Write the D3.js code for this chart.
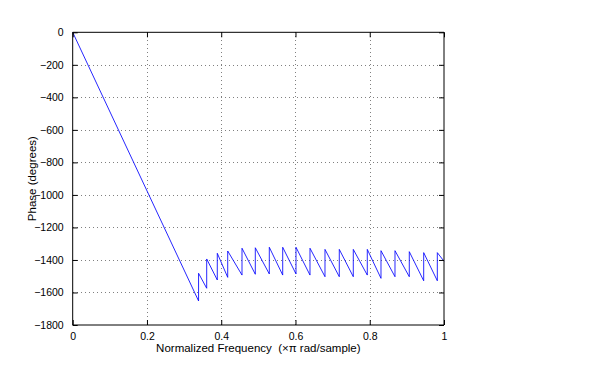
<!DOCTYPE html>
<html><head><meta charset="utf-8">
<script src="https://cdn.jsdelivr.net/npm/d3@7"></script>
<style>body{margin:0;background:#fff}svg{display:block}text{font-family:"Liberation Sans",Arial,sans-serif;fill:#000}</style>
</head><body>
<script>
// Vertices of the phase response (normalized frequency, degrees)
const freq = [0, 0.339, 0.339, 0.3609, 0.3609, 0.3894, 0.3894, 0.4175, 0.4175, 0.456, 0.456,
  0.4918, 0.4918, 0.5295, 0.5295, 0.5656, 0.5656, 0.6014, 0.6014, 0.6391, 0.6391,
  0.6795, 0.6795, 0.718, 0.718, 0.7557, 0.7557, 0.7934, 0.7934, 0.8303, 0.8303,
  0.868, 0.868, 0.9065, 0.9065, 0.9453, 0.9453, 0.982, 0.982, 1.0];
const phase = [0, -1652, -1482, -1574, -1394, -1523, -1359, -1507, -1345, -1493, -1328,
  -1488, -1325, -1486, -1322, -1493, -1322, -1486, -1322, -1493, -1328,
  -1503, -1335, -1503, -1335, -1503, -1335, -1493, -1335, -1513, -1343,
  -1503, -1343, -1503, -1349, -1528, -1355, -1528, -1355, -1408];
const xTicks = [0, 0.2, 0.4, 0.6, 0.8, 1];
const yTicks = [0, -200, -400, -600, -800, -1000, -1200, -1400, -1600, -1800];
const xLabel = "Normalized Frequency  (\u00d7\u03c0 rad/sample)";
const yLabel = "Phase (degrees)";

const W = 597, H = 365;
const L = 72.7, R = 444, T = 32.3, B = 325;
const svg = d3.select("body").append("svg").attr("width", W).attr("height", H);
const x = d3.scaleLinear().domain([0, 1]).range([L, R]);
const y = d3.scaleLinear().domain([-1800, 0]).range([B, T]);
const fmtY = d3.format("d");

// grid
const g = svg.append("g").attr("stroke", "#808080").attr("stroke-width", 1)
  .attr("stroke-dasharray", "1,3").attr("shape-rendering", "crispEdges");
xTicks.slice(1, -1).forEach(t => g.append("line").attr("x1", Math.round(x(t)) + 0.5).attr("x2", Math.round(x(t)) + 0.5).attr("y1", T).attr("y2", B));
yTicks.slice(1, -1).forEach(t => g.append("line").attr("y1", Math.round(y(t)) + 0.5).attr("y2", Math.round(y(t)) + 0.5).attr("x1", L).attr("x2", R));

// data line
const pts = freq.map((f, i) => [f, phase[i]]);
svg.append("path").datum(pts)
  .attr("d", d3.line().x(d => x(d[0])).y(d => y(d[1])))
  .attr("fill", "none").attr("stroke", "#0000ff").attr("stroke-width", 0.85);

// axes
const tk = 5;
const axB = svg.append("g").attr("transform", `translate(0,${B})`)
  .call(d3.axisBottom(x).tickValues(xTicks).tickSize(-tk).tickPadding(tk + 3).tickFormat(d3.format("")));
const axT = svg.append("g").attr("transform", `translate(0,${T})`)
  .call(d3.axisTop(x).tickValues(xTicks).tickSize(-tk).tickFormat(""));
const axL = svg.append("g").attr("transform", `translate(${L},0)`)
  .call(d3.axisLeft(y).tickValues(yTicks).tickSize(-tk).tickPadding(tk + 4).tickFormat(fmtY));
const axR = svg.append("g").attr("transform", `translate(${R},0)`)
  .call(d3.axisRight(y).tickValues(yTicks).tickSize(-tk).tickFormat(""));
[axB, axT, axL, axR].forEach(a => {
  a.select(".domain").attr("stroke", "#000");
  a.selectAll(".tick line").attr("stroke", "#000");
  a.selectAll("text").style("font-family", '"Liberation Sans",Arial,sans-serif').style("font-size", "10.5px").attr("fill", "#000");
});
axB.select(".domain").attr("d", `M${L},0H${R}`);
axT.select(".domain").attr("d", `M${L},0H${R}`);
axL.select(".domain").attr("d", `M0,${T}V${B}`);
axR.select(".domain").attr("d", `M0,${T}V${B}`);

svg.append("text").attr("x", (L + R) / 2).attr("y", 352).attr("text-anchor", "middle")
  .style("font-size", "11.5px").style("white-space", "pre").text(xLabel);
svg.append("text").attr("transform", `translate(36,${(T + B) / 2}) rotate(-90)`).attr("text-anchor", "middle")
  .style("font-size", "11.5px").text(yLabel);
</script>
</body></html>
